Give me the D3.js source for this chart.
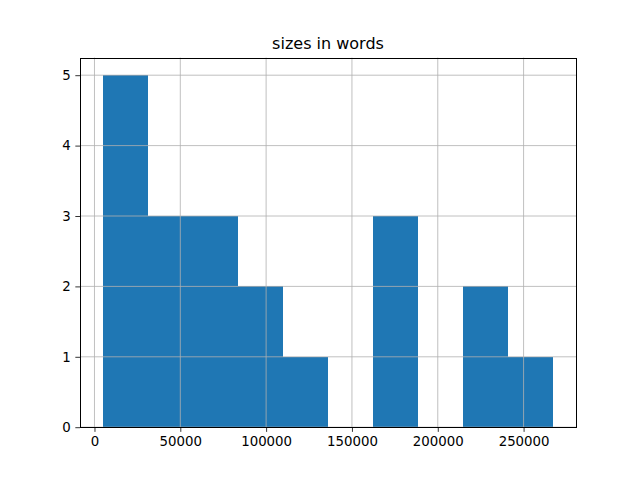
<!DOCTYPE html>
<html>
<head>
<meta charset="utf-8">
<script src="https://cdn.jsdelivr.net/npm/d3@7"></script>
<style>
body { margin: 0; background: #fff; }
svg { display: block; }
text { font-family: "DejaVu Sans", sans-serif; }
</style>
</head>
<body>
<svg id="chart" width="640" height="480"></svg>
<script>
const binEdges = [4700, 30970, 57240, 83510, 109780, 136050, 162320, 188590, 214860, 241130, 267400];
const counts = [5, 3, 3, 2, 1, 0, 3, 0, 2, 1];
const xTicks = [0, 50000, 100000, 150000, 200000, 250000];
const yTicks = [0, 1, 2, 3, 4, 5];
const title = "sizes in words";

const W = 640, H = 480;
const mLeft = 80, mRight = 576, mTop = 57.6, mBottom = 427.2;
const svg = d3.select("#chart");

const dmin = binEdges[0], dmax = binEdges[binEdges.length - 1];
const marg = (dmax - dmin) * 0.05;
const x = d3.scaleLinear().domain([dmin - marg, dmax + marg]).range([mLeft, mRight]);
const ymax = d3.max(counts) * 1.05;
const y = d3.scaleLinear().domain([0, ymax]).range([mBottom, mTop]);

const bins = counts.map((c, i) => ({x0: binEdges[i], x1: binEdges[i + 1], c}));

svg.append("g").attr("shape-rendering", "crispEdges")
  .selectAll("rect").data(bins.filter(d => d.c > 0)).join("rect")
  .attr("x", d => x(d.x0))
  .attr("width", d => x(d.x1) - x(d.x0))
  .attr("y", d => y(d.c))
  .attr("height", d => y(0) - y(d.c))
  .attr("fill", "#1f77b4");

// grid
const grid = svg.append("g").attr("stroke", "#b0b0b0").attr("stroke-width", 0.8);
xTicks.forEach(t => grid.append("line").attr("x1", x(t)).attr("x2", x(t)).attr("y1", mTop).attr("y2", mBottom));
yTicks.forEach(t => grid.append("line").attr("x1", mLeft).attr("x2", mRight).attr("y1", y(t)).attr("y2", y(t)));

// axes
const xAxis = d3.axisBottom(x).tickValues(xTicks).tickFormat(d3.format("d")).tickSize(4.67).tickPadding(4.67);
const yAxis = d3.axisLeft(y).tickValues(yTicks).tickFormat(d3.format("d")).tickSize(4.67).tickPadding(4.67);
const gx = svg.append("g").attr("transform", `translate(0,${mBottom})`).call(xAxis);
const gy = svg.append("g").attr("transform", `translate(${mLeft},0)`).call(yAxis);
[gx, gy].forEach(g => {
  g.select(".domain").remove();
  g.selectAll(".tick line").attr("stroke", "#000").attr("stroke-width", 0.8);
  g.selectAll(".tick text").attr("fill", "#000").style("font-size", "13.33px").style("font-family", "DejaVu Sans");
});

// spines
svg.append("rect").attr("x", mLeft).attr("y", Math.round(mTop)).attr("width", mRight - mLeft).attr("height", Math.round(mBottom) - Math.round(mTop))
  .attr("fill", "none").attr("stroke", "#000").attr("stroke-width", 1).attr("shape-rendering", "crispEdges");

svg.append("text").attr("x", (mLeft + mRight) / 2).attr("y", mTop - 9)
  .attr("text-anchor", "middle").style("font-size", "16px").attr("fill", "#000").text(title);
</script>
</body>
</html>
